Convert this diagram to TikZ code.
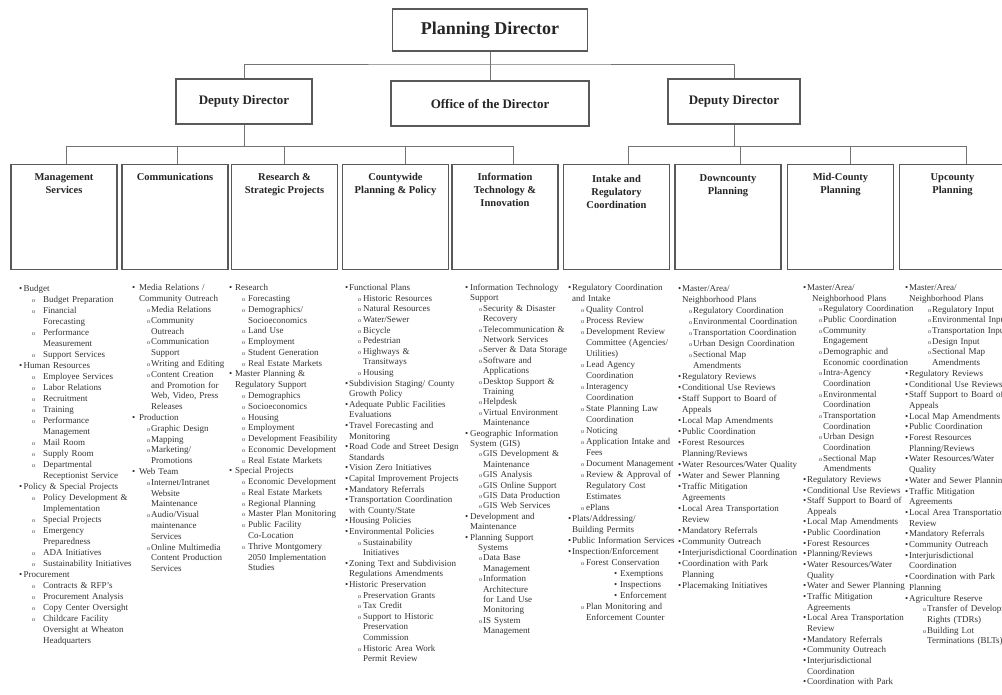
\documentclass[tikz,border=0pt]{standalone}
\usepackage{fontspec}
\setmainfont{Liberation Serif}

\newcommand\br{\newline}
\newcommand\setind[3]{\def\ta{#1pt}\def\tb{#2pt}\def\tc{#3pt}}
\newcommand\ia[1]{\par\hangindent=\ta\hangafter=1\noindent\makebox[\ta][l]{\textbullet}#1}
\newcommand\ib[1]{\par\hangindent=\tc\hangafter=1\noindent\hspace*{\tb}\makebox[\dimexpr\tc-\tb\relax][l]{\fontsize{6}{6}\selectfont o}#1}
\newcommand\ic[1]{\par\noindent\hspace*{46pt}\makebox[6pt][l]{\textbullet}#1}

\begin{document}
\begin{tikzpicture}[x=1pt, y=-1pt,
  box/.style={draw=black!65, line width=1.1pt, fill=white, text=black!85, inner sep=0pt},
  head/.style={box, minimum width=#1, minimum height=45, font=\fontsize{13}{15}\selectfont\bfseries},
  unit/.style={box, anchor=north, minimum width=106, minimum height=105},
  ttl/.style={anchor=north, align=center, inner sep=0pt, text=black!85, font=\fontsize{10.5}{13}\selectfont\bfseries},
  list/.style={anchor=base west, text width=160pt, align=left, inner sep=0pt, text=black!80, font=\fontsize{9}{#1}\selectfont},
  link/.style={draw=black!55, line width=0.9pt},
]
  \useasboundingbox (0,0) rectangle (1002,694);

  \node[box, minimum width=195, minimum height=42, font=\fontsize{18}{20}\selectfont\bfseries] (pd) at (490,30) {Planning Director};
  \node[head=136] (depL) at (244,101.5) {Deputy Director};
  \node[head=198] (office) at (490,103.5) {Office of the Director};
  \node[head=132] (depR) at (734,101.5) {Deputy Director};

  \coordinate (top) at (490,64);
  \coordinate (jL) at (244,146);
  \coordinate (jR) at (734,146);
  \draw[link] (pd) -- (office);
  \draw[link] (depL) |- (top) -| (depR);
  \draw[link] (depL) -- (jL);
  \draw[link] (depR) -- (jR);

  \foreach \b/\x in {mgmt/64, comm/175, res/284.5, cwide/395.5, it/505,
                     intake/616.5, down/728, mid/840.5, up/952.5}
    \node[unit] (\b) at (\x,164) {};

  \foreach \b/\dx in {mgmt/2, comm/2, res/0, cwide/10, it/8}
    \draw[link] (jL) -| ([xshift=\dx]\b.north);
  \foreach \b/\dx in {intake/12, down/12, mid/10, up/14}
    \draw[link] (jR) -| ([xshift=\dx]\b.north);

  \node[ttl] (mgmtT) at ([yshift=-9pt]mgmt.north) {Management\\Services};
  \node[ttl] (commT) at ([yshift=-9pt]comm.north) {Communications};
  \node[ttl] (resT) at ([yshift=-9pt]res.north) {Research \&\\Strategic Projects};
  \node[ttl] (cwideT) at ([yshift=-9pt]cwide.north) {Countywide\\Planning \& Policy};
  \node[ttl] (itT) at ([yshift=-9pt]it.north) {Information\\Technology \&\\Innovation};
  \node[ttl] (intakeT) at ([yshift=-11pt]intake.north) {Intake and\\Regulatory\\Coordination};
  \node[ttl] (downT) at ([yshift=-10pt]down.north) {Downcounty\\Planning};
  \node[ttl] (midT) at ([yshift=-9pt]mid.north) {Mid-County\\Planning};
  \node[ttl] (upT) at ([yshift=-9pt]up.north) {Upcounty\\Planning};

  \node[list=11] (mgmtL) at (19,280) {\setind{4.5}{13}{24}%
    \ia{Budget}
    \ib{Budget Preparation}
    \ib{Financial\br Forecasting}
    \ib{Performance\br Measurement}
    \ib{Support Services}
    \ia{Human Resources}
    \ib{Employee Services}
    \ib{Labor Relations}
    \ib{Recruitment}
    \ib{Training}
    \ib{Performance\br Management}
    \ib{Mail Room}
    \ib{Supply Room}
    \ib{Departmental\br Receptionist Service}
    \ia{Policy \& Special Projects}
    \ib{Policy Development \&\br Implementation}
    \ib{Special Projects}
    \ib{Emergency\br Preparedness}
    \ib{ADA Initiatives}
    \ib{Sustainability Initiatives}
    \ia{Procurement}
    \ib{Contracts \& RFP's}
    \ib{Procurement Analysis}
    \ib{Copy Center Oversight}
    \ib{Childcare Facility\br Oversight at Wheaton\br Headquarters}\par};

  \node[list=10.8] (commL) at (132,280) {\setind{7}{15}{19}%
    \ia{Media Relations /\br Community Outreach}
    \ib{Media Relations}
    \ib{Community\br Outreach}
    \ib{Communication\br Support}
    \ib{Writing and Editing}
    \ib{Content Creation\br and Promotion for\br Web, Video, Press\br Releases}
    \ia{Production}
    \ib{Graphic Design}
    \ib{Mapping}
    \ib{Marketing/\br Promotions}
    \ia{Web Team}
    \ib{Internet/Intranet\br Website\br Maintenance}
    \ib{Audio/Visual\br maintenance\br Services}
    \ib{Online Multimedia\br Content Production\br Services}\par};

  \node[list=10.77] (resL) at (229,280) {\setind{6}{13}{19}%
    \ia{Research}
    \ib{Forecasting}
    \ib{Demographics/\br Socioeconomics}
    \ib{Land Use}
    \ib{Employment}
    \ib{Student Generation}
    \ib{Real Estate Markets}
    \ia{Master Planning \&\br Regulatory Support}
    \ib{Demographics}
    \ib{Socioeconomics}
    \ib{Housing}
    \ib{Employment}
    \ib{Development Feasibility}
    \ib{Economic Development}
    \ib{Real Estate Markets}
    \ia{Special Projects}
    \ib{Economic Development}
    \ib{Real Estate Markets}
    \ib{Regional Planning}
    \ib{Master Plan Monitoring}
    \ib{Public Facility\br Co-Location}
    \ib{Thrive Montgomery\br 2050 Implementation\br Studies}\par};

  \node[list=10.6] (cwideL) at (345,280) {\setind{4}{13}{18}%
    \ia{Functional Plans}
    \ib{Historic Resources}
    \ib{Natural Resources}
    \ib{Water/Sewer}
    \ib{Bicycle}
    \ib{Pedestrian}
    \ib{Highways \&\br Transitways}
    \ib{Housing}
    \ia{Subdivision Staging/ County\br Growth Policy}
    \ia{Adequate Public Facilities\br Evaluations}
    \ia{Travel Forecasting and\br Monitoring}
    \ia{Road Code and Street Design\br Standards}
    \ia{Vision Zero Initiatives}
    \ia{Capital Improvement Projects}
    \ia{Mandatory Referrals}
    \ia{Transportation Coordination\br with County/State}
    \ia{Housing Policies}
    \ia{Environmental Policies}
    \ib{Sustainability\br Initiatives}
    \ia{Zoning Text and Subdivision\br Regulations Amendments}
    \ia{Historic Preservation}
    \ib{Preservation Grants}
    \ib{Tax Credit}
    \ib{Support to Historic\br Preservation\br Commission}
    \ib{Historic Area Work\br Permit Review}\par};

  \node[list=10.4] (itL) at (465,280) {\setind{5}{14}{18}%
    \ia{Information Technology\br Support}
    \ib{Security \& Disaster\br Recovery}
    \ib{Telecommunication \&\br Network Services}
    \ib{Server \& Data Storage}
    \ib{Software and\br Applications}
    \ib{Desktop Support \&\br Training}
    \ib{Helpdesk}
    \ib{Virtual Environment\br Maintenance}
    \ia{Geographic Information\br System (GIS)}
    \ib{GIS Development \&\br Maintenance}
    \ib{GIS Analysis}
    \ib{GIS Online Support}
    \ib{GIS Data Production}
    \ib{GIS Web Services}
    \ia{Development and\br Maintenance}
    \ia{Planning Support\br \hspace*{8pt}Systems}
    \ib{Data Base\br Management}
    \ib{Information\br Architecture\br for Land Use\br Monitoring}
    \ib{IS System\br Management}\par};

  \node[list=10.97] (intakeL) at (568,280) {\setind{4}{13}{18}%
    \ia{Regulatory Coordination\br and Intake}
    \ib{Quality Control}
    \ib{Process Review}
    \ib{Development Review\br Committee (Agencies/\br Utilities)}
    \ib{Lead Agency\br Coordination}
    \ib{Interagency\br Coordination}
    \ib{State Planning Law\br Coordination}
    \ib{Noticing}
    \ib{Application Intake and\br Fees}
    \ib{Document Management}
    \ib{Review \& Approval of\br Regulatory Cost\br Estimates}
    \ib{ePlans}
    \ia{Plats/Addressing/\br Building Permits}
    \ia{Public Information Services}
    \ia{Inspection/Enforcement}
    \ib{Forest Conservation}
    \ic{Exemptions}
    \ic{Inspections}
    \ic{Enforcement}
    \ib{Plan Monitoring and\br Enforcement Counter}\par};

  \node[list=11] (downL) at (678,280) {\setind{4}{11}{15}%
    \ia{Master/Area/\br Neighborhood Plans}
    \ib{Regulatory Coordination}
    \ib{Environmental Coordination}
    \ib{Transportation Coordination}
    \ib{Urban Design Coordination}
    \ib{Sectional Map\br Amendments}
    \ia{Regulatory Reviews}
    \ia{Conditional Use Reviews}
    \ia{Staff Support to Board of\br Appeals}
    \ia{Local Map Amendments}
    \ia{Public Coordination}
    \ia{Forest Resources\br Planning/Reviews}
    \ia{Water Resources/Water Quality}
    \ia{Water and Sewer Planning}
    \ia{Traffic Mitigation\br Agreements}
    \ia{Local Area Transportation\br Review}
    \ia{Mandatory Referrals}
    \ia{Community Outreach}
    \ia{Interjurisdictional Coordination}
    \ia{Coordination with Park\br Planning}
    \ia{Placemaking Initiatives}\par};

  \node[list=10.65] (midL) at (803,280) {\setind{4}{16}{20}%
    \ia{Master/Area/\br \hspace*{5pt}Neighborhood Plans}
    \ib{Regulatory Coordination}
    \ib{Public Coordination}
    \ib{Community\br Engagement}
    \ib{Demographic and\br Economic coordination}
    \ib{Intra-Agency\br Coordination}
    \ib{Environmental\br Coordination}
    \ib{Transportation\br Coordination}
    \ib{Urban Design\br Coordination}
    \ib{Sectional Map\br Amendments}
    \ia{Regulatory Reviews}
    \ia{Conditional Use Reviews}
    \ia{Staff Support to Board of\br Appeals}
    \ia{Local Map Amendments}
    \ia{Public Coordination}
    \ia{Forest Resources}
    \ia{Planning/Reviews}
    \ia{Water Resources/Water\br Quality}
    \ia{Water and Sewer Planning}
    \ia{Traffic Mitigation\br Agreements}
    \ia{Local Area Transportation\br Review}
    \ia{Mandatory Referrals}
    \ia{Community Outreach}
    \ia{Interjurisdictional\br Coordination}
    \ia{Coordination with Park}\par};

  \node[list=10.7] (upL) at (905,280) {\setind{4}{23}{27}%
    \ia{Master/Area/\br Neighborhood Plans}
    \ib{Regulatory Input}
    \ib{Environmental Input}
    \ib{Transportation Input}
    \ib{Design Input}
    \ib{Sectional Map\br Amendments}
    \ia{Regulatory Reviews}
    \ia{Conditional Use Reviews}
    \ia{Staff Support to Board of\br Appeals}
    \ia{Local Map Amendments}
    \ia{Public Coordination}
    \ia{Forest Resources\br Planning/Reviews}
    \ia{Water Resources/Water\br Quality}
    \ia{Water and Sewer Planning}
    \ia{Traffic Mitigation\br Agreements}
    \ia{Local Area Transportation\br Review}
    \ia{Mandatory Referrals}
    \ia{Community Outreach}
    \ia{Interjurisdictional\br Coordination}
    \ia{Coordination with Park\br Planning}
    \ia{Agriculture Reserve}
    \setind{4}{18}{22}%
    \ib{Transfer of Development\br Rights (TDRs)}
    \ib{Building Lot\br Terminations (BLTs)}\par};
\end{tikzpicture}
\end{document}
